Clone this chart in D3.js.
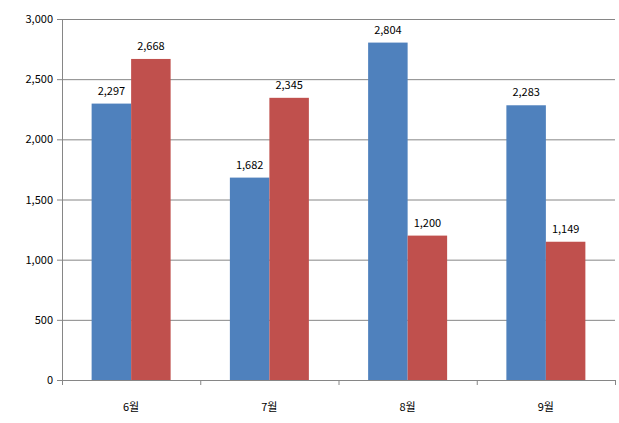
<!DOCTYPE html>
<html><head><meta charset="utf-8">
<script src="https://cdn.jsdelivr.net/npm/d3@7"></script>
<style>body{margin:0;background:#fff}text{font-family:"Malgun Gothic","Noto Sans CJK KR",sans-serif;font-size:11px;fill:#000}</style>
</head><body><svg id="c" width="619" height="423"></svg>
<script>
const categories=["6월","7월","8월","9월"];
const series1=[2297,1682,2804,2283];
const series2=[2668,2345,1200,1149];
const yTicks=[0,500,1000,1500,2000,2500,3000];
const colors=["#4F81BD","#C0504D"];
const svg=d3.select("#c");
const L=62,R=615,T=19,B=380;
const x=d3.scaleBand().domain(categories).range([L,R]);
const y=d3.scaleLinear().domain([0,3000]).range([B,T]);
const g=svg.append("g");
yTicks.forEach(t=>{
  g.append("line").attr("x1",L).attr("x2",R).attr("y1",y(t)+0.5).attr("y2",y(t)+0.5).attr("stroke","#868686");
  g.append("line").attr("x1",L-5).attr("x2",L).attr("y1",y(t)+0.5).attr("y2",y(t)+0.5).attr("stroke","#868686");
  g.append("text").attr("x",L-9).attr("y",y(t)+4).attr("text-anchor","end").text(d3.format(",")(t));
});
g.append("line").attr("x1",L+0.5).attr("x2",L+0.5).attr("y1",T).attr("y2",B+5).attr("stroke","#868686");
categories.forEach((c,i)=>{
  const x0=x(c);
  g.append("line").attr("x1",x0+x.bandwidth()+0.5).attr("x2",x0+x.bandwidth()+0.5).attr("y1",B).attr("y2",B+5).attr("stroke","#868686");
  g.append("text").attr("x",x0+x.bandwidth()/2).attr("y",411).attr("text-anchor","middle").text(c);
});
const bw=39.5, off=(x.bandwidth()-2*bw)/2;
[series1,series2].forEach((s,k)=>{
  s.forEach((v,i)=>{
    const bx=x(categories[i])+off+k*bw;
    g.append("rect").attr("x",bx).attr("width",bw).attr("y",y(v)).attr("height",B-y(v)).attr("fill",colors[k]);
    g.append("text").attr("x",bx+bw/2).attr("y",y(v)-9).attr("text-anchor","middle").text(d3.format(",")(v));
  });
});
</script></body></html>
